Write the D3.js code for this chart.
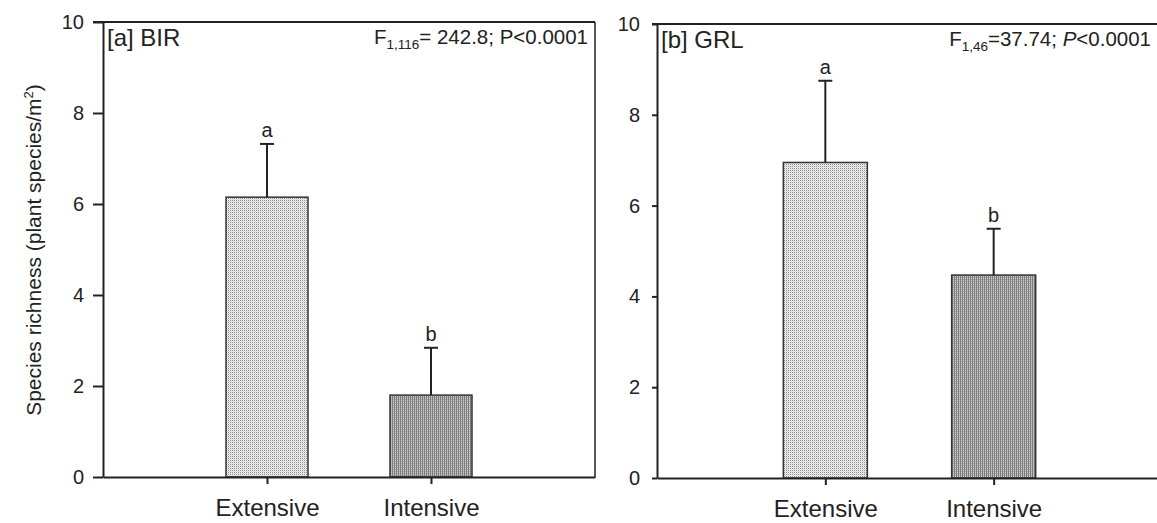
<!DOCTYPE html>
<html>
<head>
<meta charset="utf-8">
<script src="https://cdnjs.cloudflare.com/ajax/libs/d3/7.8.5/d3.min.js"></script>
<style>
  body { margin: 0; background: #fff; }
  svg { display: block; font-family: "Liberation Sans", Arial, sans-serif; }
  .tick text { font-size: 20px; fill: #222; }
</style>
</head>
<body>
<svg id="chart" width="1157" height="523"></svg>
<script>
// values
const categories = ['Extensive', 'Intensive'];
const birMeans = [6.15, 1.80];
const birSE = [1.17, 1.04];
const grlMeans = [6.95, 4.47];
const grlSE = [1.80, 1.02];
const sigLetters = ['a', 'b'];
const yTicks = [0, 2, 4, 6, 8, 10];

const svg = d3.select('#chart');
const ink = '#222';

// stipple fills for the two bar types
const defs = svg.append('defs');
const pExt = defs.append('pattern').attr('id', 'pat-ext')
  .attr('patternUnits', 'userSpaceOnUse').attr('width', 2).attr('height', 2);
pExt.append('rect').attr('width', 2).attr('height', 2).attr('fill', '#f2f2f2');
pExt.append('rect').attr('width', 1).attr('height', 1).attr('fill', '#8a8a8a');
pExt.append('rect').attr('x', 1).attr('y', 1).attr('width', 1).attr('height', 1).attr('fill', '#d6d6d6');

const pInt = defs.append('pattern').attr('id', 'pat-int')
  .attr('patternUnits', 'userSpaceOnUse').attr('width', 2).attr('height', 2);
pInt.append('rect').attr('width', 2).attr('height', 2).attr('fill', '#d0d0d0');
pInt.append('rect').attr('width', 1).attr('height', 2).attr('fill', '#7c7c7c');
pInt.append('rect').attr('x', 1).attr('y', 1).attr('width', 1).attr('height', 1).attr('fill', '#a8a8a8');

function panel(opt) {
  const g = svg.append('g');
  const y = d3.scaleLinear().domain([0, 10]).range([opt.bottom, opt.top]);
  const x = d3.scaleLinear().domain([0, 3]).range([opt.left, opt.right]);
  const bw = opt.barWidth;

  // frame lines
  g.append('line')
    .attr('x1', opt.left - opt.yTick).attr('x2', opt.right)
    .attr('y1', opt.top).attr('y2', opt.top)
    .attr('stroke', ink).attr('stroke-width', 2);
  if (opt.rightBorder) {
    g.append('line')
      .attr('x1', opt.right).attr('x2', opt.right)
      .attr('y1', opt.top).attr('y2', opt.bottom)
      .attr('stroke', ink).attr('stroke-width', 1.5);
  }

  // bars
  g.selectAll('rect.bar').data(opt.means).enter().append('rect')
    .attr('class', 'bar')
    .attr('x', (d, i) => x(i + 1) - bw / 2)
    .attr('y', d => y(d))
    .attr('width', bw)
    .attr('height', d => y(0) - y(d))
    .attr('fill', (d, i) => i === 0 ? 'url(#pat-ext)' : 'url(#pat-int)')
    .attr('stroke', '#333').attr('stroke-width', 1.5);

  // upper error bars
  opt.means.forEach((m, i) => {
    const cx = x(i + 1), top = y(m + opt.se[i]);
    g.append('line').attr('x1', cx).attr('x2', cx)
      .attr('y1', y(m)).attr('y2', top)
      .attr('stroke', ink).attr('stroke-width', 2);
    g.append('line').attr('x1', cx - 7).attr('x2', cx + 7)
      .attr('y1', top).attr('y2', top)
      .attr('stroke', ink).attr('stroke-width', 2);
    g.append('text').attr('x', cx).attr('y', top - 7)
      .attr('text-anchor', 'middle')
      .style('font-size', '20px').attr('fill', ink)
      .text(sigLetters[i]);
  });

  // y axis
  const ya = g.append('g')
    .attr('transform', `translate(${opt.left},0)`)
    .call(d3.axisLeft(y).tickValues(yTicks).tickSize(opt.yTick).tickSizeOuter(0)
      .tickPadding(opt.yPad));
  ya.select('.domain').attr('stroke', ink).attr('stroke-width', 2);
  ya.selectAll('.tick line').attr('stroke', ink).attr('stroke-width', 2);

  // x axis
  const xa = g.append('g')
    .attr('transform', `translate(0,${opt.bottom})`)
    .call(d3.axisBottom(x).tickValues([1, 2]).tickFormat(d => categories[d - 1])
      .tickSize(7).tickSizeOuter(0).tickPadding(15));
  xa.select('.domain').attr('stroke', ink).attr('stroke-width', 2);
  xa.selectAll('.tick line').attr('stroke', ink).attr('stroke-width', 2);
  xa.selectAll('.tick text').style('font-size', '24px');

  // panel title
  g.append('text').attr('x', opt.left + 4).attr('y', opt.top + 24)
    .style('font-size', '24px').attr('fill', ink).text(opt.title);

  // statistics line
  const st = g.append('text').attr('x', opt.statX).attr('y', opt.top + 22)
    .attr('text-anchor', 'end').style('font-size', '20.5px').attr('fill', ink);
  opt.stat(st);

  return g;
}

panel({
  left: 103, right: 595, top: 22, bottom: 477, barWidth: 82, yTick: 10, yPad: 9,
  means: birMeans, se: birSE, title: '[a] BIR', rightBorder: true, statX: 588,
  stat: t => {
    t.append('tspan').text('F');
    t.append('tspan').attr('dy', 5).style('font-size', '13.5px').text('1,116');
    t.append('tspan').attr('dy', -5).text('= 242.8; P<0.0001');
  }
});

panel({
  left: 657, right: 1162, top: 24, bottom: 478, barWidth: 84, yTick: 5, yPad: 12,
  means: grlMeans, se: grlSE, title: '[b] GRL', rightBorder: false, statX: 1151,
  stat: t => {
    t.append('tspan').text('F');
    t.append('tspan').attr('dy', 5).style('font-size', '13.5px').text('1,46');
    t.append('tspan').attr('dy', -5).text('=37.74; ');
    t.append('tspan').style('font-style', 'italic').text('P');
    t.append('tspan').text('<0.0001');
  }
});

// shared y title
const yt = svg.append('text')
  .attr('transform', 'translate(41,250) rotate(-90)')
  .attr('text-anchor', 'middle')
  .style('font-size', '21px').attr('fill', ink);
yt.append('tspan').text('Species richness (plant species/m');
yt.append('tspan').attr('dy', -8).style('font-size', '13px').text('2');
yt.append('tspan').attr('dy', 8).text(')');
</script>
</body>
</html>
